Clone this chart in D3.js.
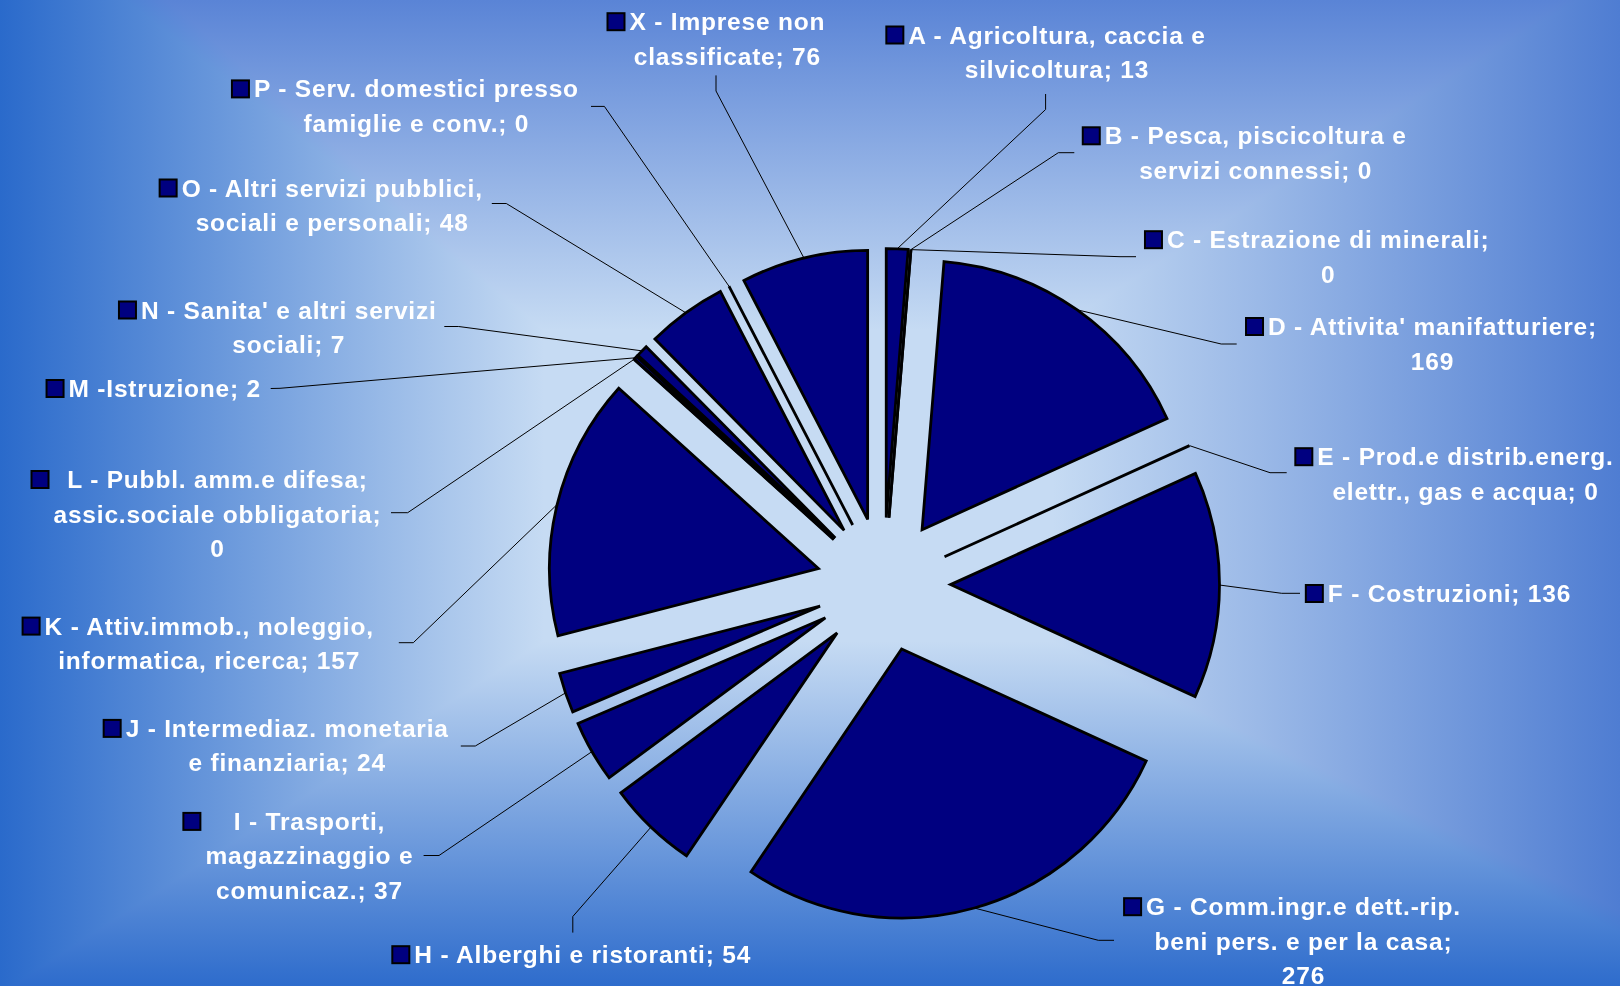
<!DOCTYPE html>
<html>
<head>
<meta charset="utf-8">
<script src="https://cdn.jsdelivr.net/npm/d3@7"></script>
<style>
body { margin: 0; background: #2a6acb; }
svg { display: block; }
.lbl {
    font-family: "Liberation Sans", Arial, sans-serif;
    font-weight: bold;
    font-size: 24.5px;
    letter-spacing: 0.8px;
    fill: #ffffff;
}
</style>
</head>
<body>
<div id="chart"></div>
<script>
// data, clockwise from 12 o'clock
var categories = [
    "A - Agricoltura, caccia e silvicoltura",
    "B - Pesca, piscicoltura e servizi connessi",
    "C - Estrazione di minerali",
    "D - Attivita' manifatturiere",
    "E - Prod.e distrib.energ. elettr., gas e acqua",
    "F - Costruzioni",
    "G - Comm.ingr.e dett.-rip. beni pers. e per la casa",
    "H - Alberghi e ristoranti",
    "I - Trasporti, magazzinaggio e comunicaz.",
    "J - Intermediaz. monetaria e finanziaria",
    "K - Attiv.immob., noleggio, informatica, ricerca",
    "L - Pubbl. amm.e difesa; assic.sociale obbligatoria",
    "M -Istruzione",
    "N - Sanita' e altri servizi sociali",
    "O - Altri servizi pubblici, sociali e personali",
    "P - Serv. domestici presso famiglie e conv.",
    "X - Imprese non classificate"
];
var values = [13, 0, 0, 169, 0, 136, 276, 54, 37, 24, 157, 0, 2, 7, 48, 0, 76];

// how many words go on each line of a label
var lineWords = [[5, 2], [5, 3], [5, 1], [4, 1], [4, 5], [4], [4, 6, 1], [6], [3, 2, 2],
    [4, 3], [4, 3], [5, 2, 1], [3], [6, 2], [5, 4], [5, 4], [4, 2]];

var W = 1620, H = 986;
var pieCx = 883.5, pieCy = 584.5, radius = 269, explode = 67;
var lineH = 34.5, capH = 17, keySize = 17, keyGap = 5;

// label layout: text centre x, first line centre y, leader elbow and end
var labelLayout = [
    { x: 1057, y: 35, elbow: [1045.6, 109.5], end: [1045.6, 94] },
    { x: 1255.7, y: 135.8, elbow: [1058.3, 152.7], end: [1074.3, 152.7] },
    { x: 1328.2, y: 239.7, elbow: [1120, 256.7], end: [1136, 256.7] },
    { x: 1432.5, y: 326.5, elbow: [1221.2, 344], end: [1236.7, 344] },
    { x: 1465.5, y: 456.7, elbow: [1270, 472.7], end: [1286.7, 472.7] },
    { x: 1449.5, y: 593.5, elbow: [1281.7, 593.3], end: [1300, 593.3] },
    { x: 1303.5, y: 906.7, elbow: [1098.3, 940.3], end: [1114, 940.3] },
    { x: 582.7, y: 954.7, elbow: [572.8, 916.5], end: [572.8, 932.6] },
    { x: 309.4, y: 821.4, elbow: [439, 855.5], end: [423.6, 855.5] },
    { x: 287.2, y: 728.4, elbow: [475.3, 746], end: [460.8, 746] },
    { x: 209.2, y: 626.1, elbow: [413.3, 642.7], end: [398.8, 642.7] },
    { x: 217.5, y: 479.5, elbow: [407.7, 512.7], end: [391, 512.7] },
    { x: 164.8, y: 388.5, elbow: [280, 388.3], end: [270.7, 388.5] },
    { x: 288.8, y: 310, elbow: [458.7, 326.5], end: [444.3, 326.5] },
    { x: 332.2, y: 188, elbow: [506.3, 203.5], end: [491.8, 203.5] },
    { x: 416.4, y: 88.9, elbow: [604.4, 106.4], end: [591, 106.4] },
    { x: 727.4, y: 21.7, elbow: [716, 91], end: [716, 75.4] }
];

var svg = d3.select("#chart")
    .append("svg")
    .attr("width", W)
    .attr("height", H);

// background: a horizontal and a vertical ramp, darken-blended -> rectangular gradient
var defs = svg.append("defs");
var gx = defs.append("linearGradient").attr("id", "bgX")
    .attr("x1", 0).attr("y1", 0).attr("x2", 1).attr("y2", 0);
[[0, "#2a6acb"], [0.336, "#c6dbf3"], [0.65, "#c6dbf3"], [1, "#4f7dd2"]].forEach(function(s) {
    gx.append("stop").attr("offset", s[0]).attr("stop-color", s[1]);
});
var gy = defs.append("linearGradient").attr("id", "bgY")
    .attr("x1", 0).attr("y1", 0).attr("x2", 0).attr("y2", 1);
[[0, "#5a84d6"], [0.335, "#c6dbf3"], [0.65, "#c6dbf3"], [1, "#2e6ccc"]].forEach(function(s) {
    gy.append("stop").attr("offset", s[0]).attr("stop-color", s[1]);
});
svg.append("rect").attr("width", W).attr("height", H).attr("fill", "url(#bgX)");
svg.append("rect").attr("width", W).attr("height", H).attr("fill", "url(#bgY)")
    .style("mix-blend-mode", "darken");

var pieData = d3.pie().sort(null).value(function(d) { return d; })(values);
var arc = d3.arc().innerRadius(0).outerRadius(radius);

function midAngle(d) {
    return (d.startAngle + d.endAngle) / 2;
}

// leader lines
svg.append("g")
    .selectAll("polyline")
    .data(pieData)
    .join("polyline")
    .attr("points", function(d, i) {
        var m = midAngle(d);
        var sx = pieCx + (explode + radius) * Math.sin(m);
        var sy = pieCy - (explode + radius) * Math.cos(m);
        var L = labelLayout[i];
        return [[sx, sy], L.elbow, L.end].join(" ");
    })
    .attr("fill", "none")
    .attr("stroke", "#000")
    .attr("stroke-width", 1);

// exploded slices
svg.append("g")
    .attr("transform", "translate(" + pieCx + "," + pieCy + ")")
    .selectAll("path")
    .data(pieData)
    .join("path")
    .attr("transform", function(d) {
        var m = midAngle(d);
        return "translate(" + (explode * Math.sin(m)) + "," + (-explode * Math.cos(m)) + ")";
    })
    .attr("d", arc)
    .attr("fill", "#000080")
    .attr("stroke", "#000")
    .attr("stroke-width", 2.8);

// labels with legend key
var labels = svg.append("g");
categories.forEach(function(cat, i) {
    var words = (cat + "; " + values[i]).split(" ");
    var lines = [], k = 0;
    lineWords[i].forEach(function(n) {
        lines.push(words.slice(k, k + n).join(" "));
        k += n;
    });
    var L = labelLayout[i];
    var t = labels.append("text")
        .attr("class", "lbl")
        .attr("text-anchor", "middle");
    var maxW = 0;
    lines.forEach(function(line, j) {
        var ts = t.append("tspan")
            .attr("x", L.x)
            .attr("y", L.y + j * lineH + capH / 2)
            .text(line);
        maxW = Math.max(maxW, ts.node().getComputedTextLength());
    });
    labels.append("rect")
        .attr("x", L.x - maxW / 2 - keyGap - keySize)
        .attr("y", L.y - keySize / 2)
        .attr("width", keySize)
        .attr("height", keySize)
        .attr("fill", "#000080")
        .attr("stroke", "#000")
        .attr("stroke-width", 2);
});
</script>
</body>
</html>
